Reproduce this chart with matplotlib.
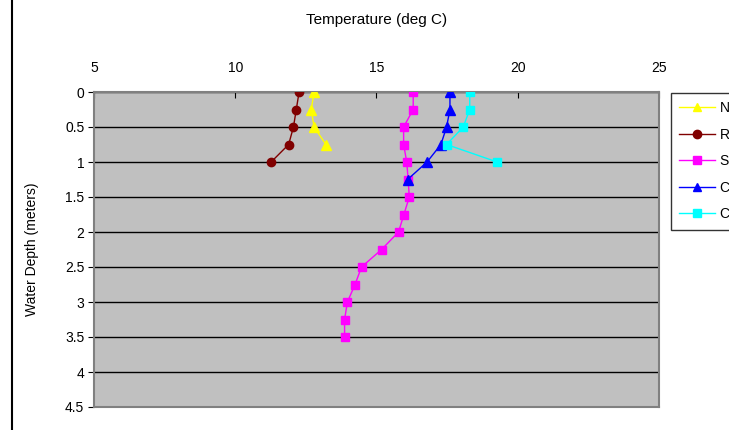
import matplotlib
matplotlib.use("Agg")
import matplotlib.pyplot as plt
from matplotlib.lines import Line2D

plt.rcParams['font.family'] = ['Liberation Sans', 'DejaVu Sans']

# Data
depth_n = [0, 0.25, 0.5, 0.75]
temp_n = [12.79, 12.69, 12.79, 13.21]

depth_r = [0, 0.25, 0.5, 0.75, 1.0]
temp_r = [12.26, 12.16, 12.06, 11.89, 11.27]

depth_s = [0, 0.25, 0.5, 0.75, 1.0, 1.25, 1.5, 1.75, 2.0, 2.25, 2.5, 2.75, 3.0, 3.25, 3.5]
temp_s = [16.30, 16.30, 15.96, 15.96, 16.07, 16.12, 16.16, 15.97, 15.78, 15.18, 14.47, 14.24, 13.97, 13.87, 13.87]

depth_c1 = [0, 0.25, 0.5, 0.75, 1.0, 1.25]
temp_c1 = [17.60, 17.60, 17.48, 17.28, 16.79, 16.10]

depth_c2 = [0, 0.25, 0.5, 0.75, 1.0]
temp_c2 = [18.30, 18.30, 18.07, 17.48, 19.27]

labels = ["N", "R", "S", "C", "C"]
x_ticks = [5, 10, 15, 20, 25]
y_ticks = [0, 0.5, 1, 1.5, 2, 2.5, 3, 3.5, 4, 4.5]

fig = plt.figure(figsize=(7.29, 4.30), dpi=100)
ax = fig.add_axes([94/729, 1-407/430, (659-94)/729, (407-92)/430])
ax.set_facecolor('#C0C0C0')

series = [
    (temp_n, depth_n, '#FFFF00', '^', 7),
    (temp_r, depth_r, '#800000', 'o', 6),
    (temp_s, depth_s, '#FF00FF', 's', 6),
    (temp_c1, depth_c1, '#0000FF', '^', 7),
    (temp_c2, depth_c2, '#00FFFF', 's', 6),
]
handles = []
for (t, d, c, m, ms), lab in zip(series, labels):
    h, = ax.plot(t, d, color=c, marker=m, markersize=ms, linewidth=1.0,
                 markeredgecolor=c, markerfacecolor=c, label=lab, zorder=3)
    handles.append(h)

ax.set_xlim(5, 25)
ax.set_ylim(4.5, 0)
ax.set_xticks(x_ticks)
ax.set_yticks(y_ticks)
ax.set_yticklabels([('%g' % v) for v in y_ticks])
ax.xaxis.tick_top()
ax.xaxis.set_label_position('top')
ax.tick_params(axis='x', direction='in', length=4, labelsize=10, pad=12, color='black')
ax.tick_params(axis='y', direction='out', length=4, labelsize=10, pad=3, color='black')
ax.yaxis.grid(True, color='black', linewidth=1.0)
ax.set_axisbelow(True)
for s in ax.spines.values():
    s.set_color('#808080')
    s.set_linewidth(1.5)

ax.set_xlabel('Temperature (deg C)', fontsize=11, labelpad=27)
ax.set_ylabel('Water Depth (meters)', fontsize=10, labelpad=19)

leg = fig.legend(handles=handles, labels=[l + "        " for l in labels],
                 loc='upper left', bbox_to_anchor=(671/729, 1-93/430),
                 fontsize=10, frameon=True, fancybox=False, edgecolor='black',
                 handlelength=2.6, handletextpad=0.3, labelspacing=0.9,
                 borderpad=0.6, borderaxespad=0)
leg.get_frame().set_linewidth(1.0)
for lh in leg.legend_handles:
    lh.set_markersize(6)

fig.add_artist(Line2D([12/729, 12/729], [0, 1], color='black', linewidth=1.5,
                      transform=fig.transFigure))

fig.savefig('out.png', dpi=100)
